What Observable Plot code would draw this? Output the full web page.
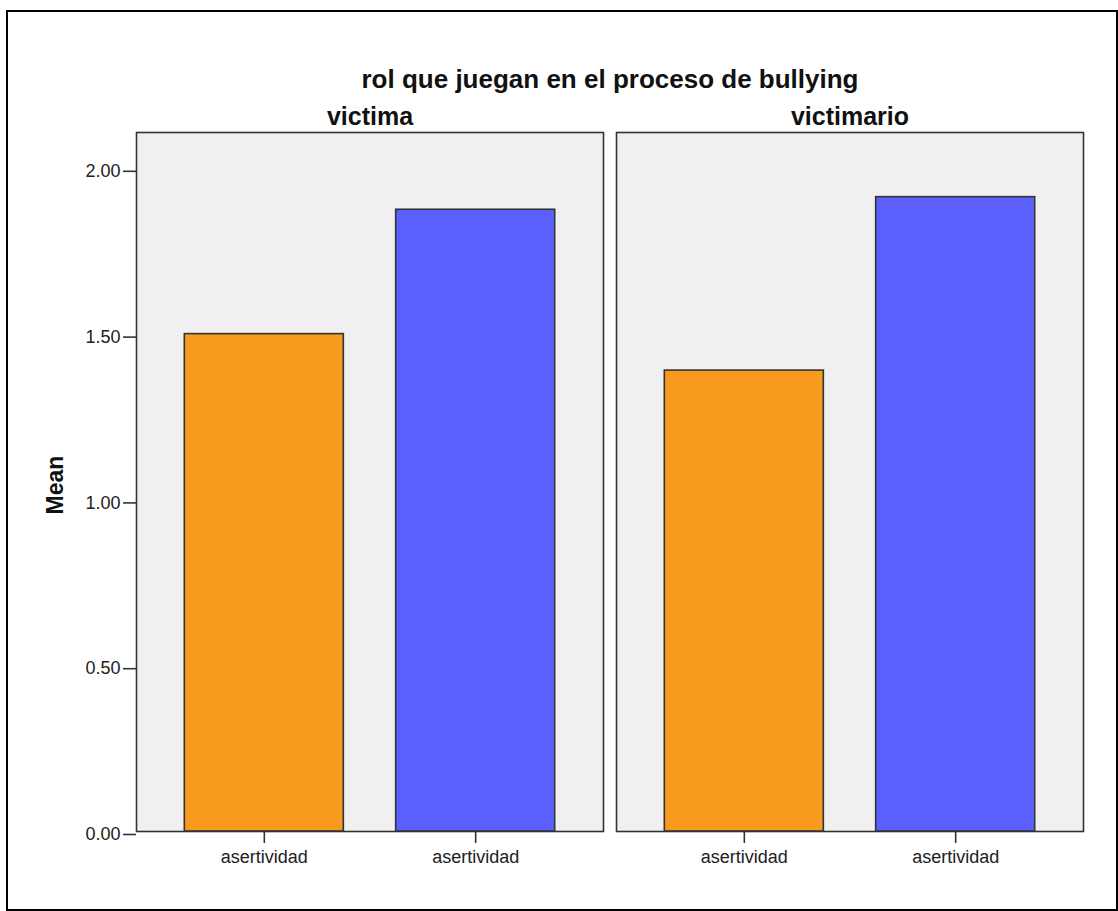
<!DOCTYPE html>
<html>
<head>
<meta charset="utf-8">
<script src="https://cdn.jsdelivr.net/npm/d3@7"></script>
<script src="https://cdn.jsdelivr.net/npm/@observablehq/plot@0.6"></script>
<style>
  body { margin: 0; background: #fff; }
  #wrap { position: relative; width: 1118px; height: 911px; overflow: hidden; font-family: "Liberation Sans", Arial, sans-serif; background: #fff; }
  #border { position: absolute; left: 6px; top: 10px; right: 0px; bottom: 0px; border: 2px solid #000; }
  #title { position: absolute; left: 0; width: 1220px; top: 64px; line-height: 30px; text-align: center; font-weight: bold; font-size: 26px; color: #111; }
  #ylabel { position: absolute; left: 55px; top: 485px; transform: translate(-50%, -50%) rotate(-90deg); font-weight: bold; font-size: 23px; white-space: nowrap; color: #111; }
  #chart { position: absolute; left: 0; top: 0; }
</style>
</head>
<body>
<div id="wrap">
  <div id="border"></div>
  <div id="chart"></div>
  <div id="title">rol que juegan en el proceso de bullying</div>
  <div id="ylabel">Mean</div>
</div>
<script>
// Data
const roles = ["victima", "victimario"];
const variables = ["asertividad_1", "asertividad_2"];
const variableLabels = ["asertividad", "asertividad"];
const victimaMeans = [1.50, 1.875];
const victimarioMeans = [1.39, 1.913];
const yTicks = [0, 0.5, 1, 1.5, 2];

const data = [];
roles.forEach((r, i) => {
  const vals = i === 0 ? victimaMeans : victimarioMeans;
  variables.forEach((v, j) => data.push({ role: r, variable: v, mean: vals[j] }));
});

const chart = Plot.plot({
  width: 1118,
  height: 911,
  marginLeft: 136,
  marginRight: 35,
  marginTop: 132,
  marginBottom: 80,
  style: { fontFamily: "'Liberation Sans', Arial, sans-serif", background: "transparent", color: "#222" },
  fx: { domain: roles, paddingInner: 0.0271, paddingOuter: 0, round: false, label: null },
  x: { domain: variables, paddingInner: 0.2476, paddingOuter: 0.2286, round: false, label: null },
  y: { domain: [0, 2.108], label: null },
  color: { domain: variables, range: ["#f89a1e", "#5c60ff"] },
  marks: [
    Plot.frame({ fill: "#f0f0f0", stroke: "#333", strokeWidth: 1.6 }),
    Plot.barY(data, { fx: "role", x: "variable", y: "mean", fill: "variable", stroke: "#333", strokeWidth: 1.6 }),
    Plot.axisFx({ anchor: "top", tickSize: 0, tickPadding: 8, fontSize: 25, fontWeight: "bold", fill: "#111", label: null }),
    Plot.axisX({ anchor: "bottom", tickSize: 12, tickPadding: 7, fontSize: 18, strokeWidth: 1.6, stroke: "#333", fill: "#222",
      tickFormat: d => variableLabels[variables.indexOf(d)], label: null }),
    Plot.axisY({ anchor: "left", ticks: yTicks, tickFormat: d3.format(".2f"), tickSize: 13, tickPadding: 3, fontSize: 18, dy: 3,
      strokeWidth: 1.6, stroke: "#333", fill: "#222", label: null })
  ]
});
document.getElementById("chart").appendChild(chart);
</script>
</body>
</html>
